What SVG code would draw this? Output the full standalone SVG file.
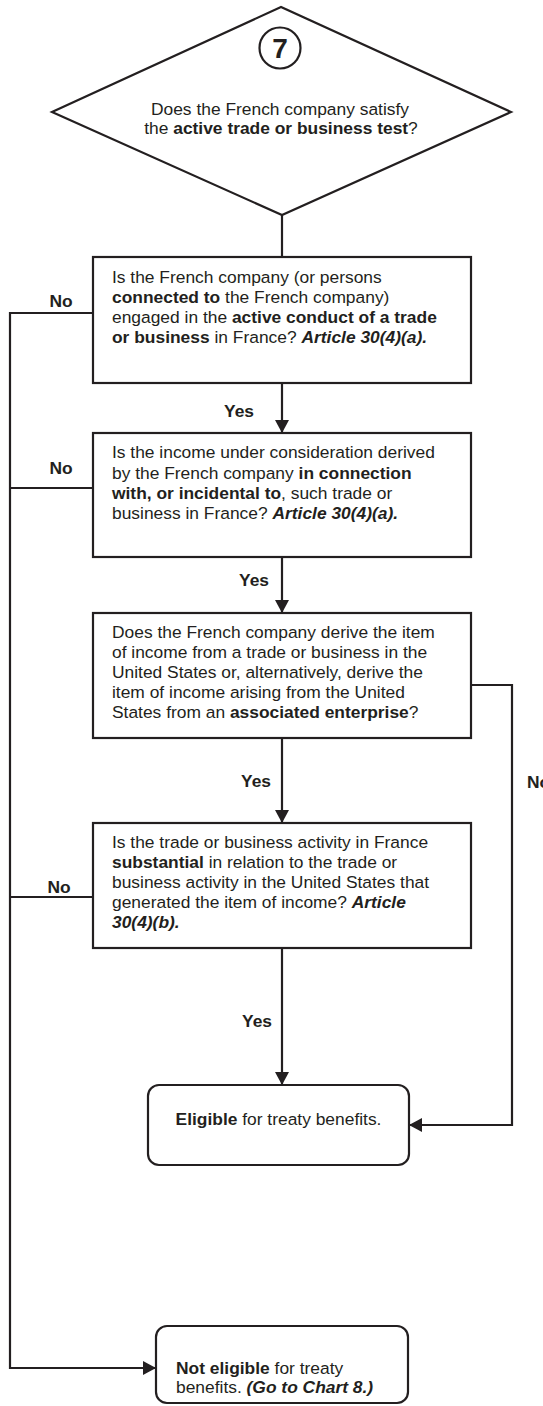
<svg xmlns="http://www.w3.org/2000/svg" width="543" height="1406" viewBox="0 0 543 1406">
<defs>
<marker id="ah" viewBox="0 0 13 14" refX="13" refY="7" markerWidth="13" markerHeight="14" markerUnits="userSpaceOnUse" orient="auto">
<path d="M0,0 L13,7 L0,14 Z" fill="#231f20"/>
</marker>
<style>
.shape{fill:#ffffff;stroke:#231f20;stroke-width:2.2}
.conn{fill:none;stroke:#231f20;stroke-width:2.2}
.t{font-family:"Liberation Sans",Arial,Helvetica,sans-serif;font-size:17.4px;fill:#231f20}
.b{font-weight:bold}
.bi{font-weight:bold;font-style:italic}
.lbl{font-family:"Liberation Sans",Arial,Helvetica,sans-serif;font-size:17.4px;font-weight:bold;fill:#231f20}
</style>
</defs>
<rect width="543" height="1406" fill="#ffffff"/>

<g id="connectors">
<path class="conn" d="M282,215 L282,257"/>
<path class="conn" d="M282,383 L282,433" marker-end="url(#ah)"/>
<path class="conn" d="M282,557 L282,613" marker-end="url(#ah)"/>
<path class="conn" d="M282,738 L282,823" marker-end="url(#ah)"/>
<path class="conn" d="M282,948 L282,1085" marker-end="url(#ah)"/>
<path class="conn" d="M471,685 L512,685 L512,1125 L409,1125" marker-end="url(#ah)"/>
<path class="conn" d="M93,313 L10,313 L10,1368 L156,1368" marker-end="url(#ah)"/>
<path class="conn" d="M93,488 L10,488"/>
<path class="conn" d="M93,897 L10,897"/>
<text class="lbl" x="239" y="417" text-anchor="middle">Yes</text>
<text class="lbl" x="254" y="586" text-anchor="middle">Yes</text>
<text class="lbl" x="256" y="787" text-anchor="middle">Yes</text>
<text class="lbl" x="257" y="1027" text-anchor="middle">Yes</text>
<text class="lbl" x="61" y="307" text-anchor="middle">No</text>
<text class="lbl" x="61" y="474" text-anchor="middle">No</text>
<text class="lbl" x="59" y="893" text-anchor="middle">No</text>
<text class="lbl" x="527" y="788">No</text>
</g>

<g id="n7">
<polygon class="shape" points="281,7 52,112 282,215 511,112"/>
<circle class="shape" cx="280" cy="48" r="20.5"/>
<text class="t b" x="280" y="58" text-anchor="middle" style="font-size:28px">7</text>
<text class="t" x="280" y="115" text-anchor="middle">Does the French company satisfy</text>
<text class="t" x="281" y="134" text-anchor="middle">the <tspan class="b">active trade or business test</tspan>?</text>
</g>

<g id="q1">
<rect class="shape" x="93" y="257" width="378" height="126"/>
<text class="t" x="112" y="283">Is the French company (or persons</text>
<text class="t" x="112" y="303"><tspan class="b">connected to</tspan> the French company)</text>
<text class="t" x="112" y="323">engaged in the <tspan class="b">active conduct of a trade</tspan></text>
<text class="t" x="112" y="343"><tspan class="b">or business</tspan> in France? <tspan class="bi">Article 30(4)(a).</tspan></text>
</g>

<g id="q2">
<rect class="shape" x="93" y="433" width="378" height="124"/>
<text class="t" x="112" y="458">Is the income under consideration derived</text>
<text class="t" x="112" y="479">by the French company <tspan class="b">in connection</tspan></text>
<text class="t" x="112" y="499"><tspan class="b">with, or incidental to</tspan>, such trade or</text>
<text class="t" x="112" y="519">business in France?  <tspan class="bi">Article 30(4)(a).</tspan></text>
</g>

<g id="q3">
<rect class="shape" x="93" y="613" width="378" height="125"/>
<text class="t" x="112" y="638">Does the French company derive the item</text>
<text class="t" x="112" y="658">of income from a trade or business in the</text>
<text class="t" x="112" y="678">United States or, alternatively, derive the</text>
<text class="t" x="112" y="698">item of income arising from the United</text>
<text class="t" x="112" y="718">States from an <tspan class="b">associated enterprise</tspan>?</text>
</g>

<g id="q4">
<rect class="shape" x="93" y="823" width="378" height="125"/>
<text class="t" x="112" y="848">Is the trade or business activity in France</text>
<text class="t" x="112" y="868"><tspan class="b">substantial</tspan> in relation to the trade or</text>
<text class="t" x="112" y="888">business activity in the United States that</text>
<text class="t" x="112" y="908">generated the item of income? <tspan class="bi">Article</tspan></text>
<text class="t bi" x="112" y="928">30(4)(b).</text>
</g>

<g id="eligible">
<rect class="shape" x="148" y="1085" width="261" height="80" rx="11" ry="11"/>
<text class="t" x="278.5" y="1125" text-anchor="middle"><tspan class="b">Eligible</tspan> for treaty benefits.</text>
</g>

<g id="noteligible">
<rect class="shape" x="156" y="1326" width="252" height="77" rx="11" ry="11"/>
<text class="t" x="176" y="1374"><tspan class="b">Not eligible</tspan> for treaty</text>
<text class="t" x="176" y="1393">benefits. <tspan class="bi">(Go to Chart 8.)</tspan></text>
</g>
</svg>
